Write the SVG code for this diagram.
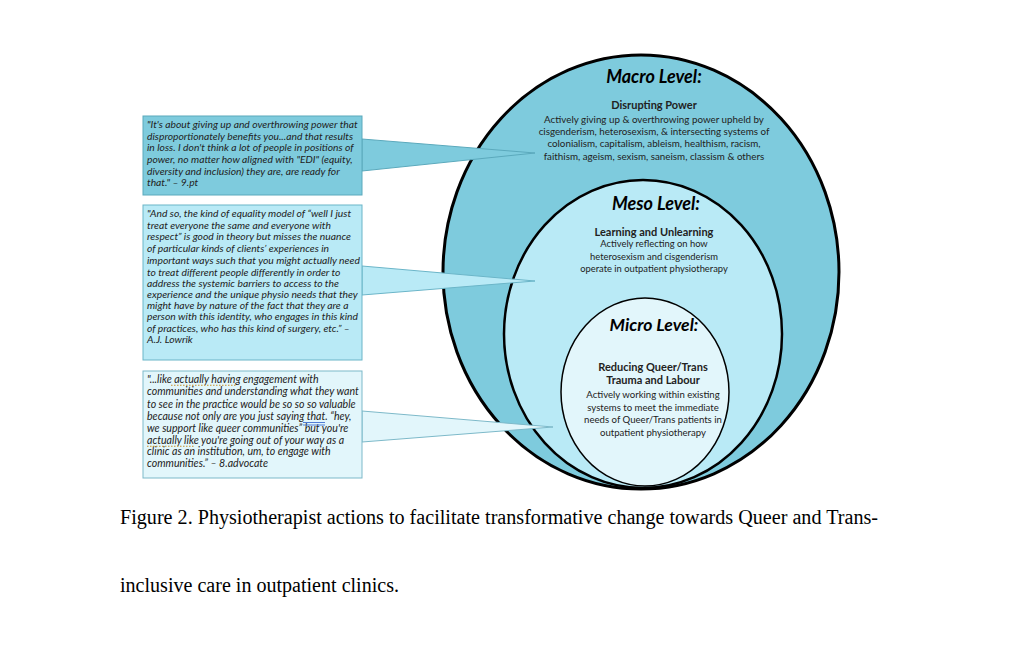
<svg xmlns="http://www.w3.org/2000/svg" width="1024" height="657" viewBox="0 0 1024 657">
<style>
.lvl{font-family:Lato,"Open Sans","Liberation Sans",sans-serif;font-weight:bold;font-style:italic;font-size:18px;fill:#000;text-anchor:middle}
.hd{font-family:Lato,"Open Sans","Liberation Sans",sans-serif;font-weight:bold;font-size:11px;fill:#222;text-anchor:middle}
.bd{font-family:Lato,"Open Sans","Liberation Sans",sans-serif;font-size:9.8px;fill:#222;text-anchor:middle}
.q{font-family:Lato,"Open Sans","Liberation Sans",sans-serif;font-style:italic;font-size:10.3px;fill:#222}
.cap{font-family:"Liberation Serif","Times New Roman",serif;font-size:20px;fill:#000}
.sp{stroke:#C8912A;stroke-width:1.1;stroke-dasharray:1.5 1.5}
.gr{stroke:#3E6FD0;stroke-width:0.9}
</style>
<rect width="1024" height="657" fill="#fff"/>
<g id="macro">
<ellipse cx="641" cy="272" rx="198" ry="217" fill="#7ECBDD" stroke="#000" stroke-width="3"/>
<text class="lvl" x="654" y="83">Macro Level:</text>
<text class="hd" x="654" y="109">Disrupting Power</text>
<text class="bd" x="654" y="123">Actively giving up &amp; overthrowing power upheld by</text>
<text class="bd" x="654" y="135">cisgenderism, heterosexism, &amp; intersecting systems of</text>
<text class="bd" x="654" y="147">colonialism, capitalism, ableism, healthism, racism,</text>
<text class="bd" x="654" y="160">faithism, ageism, sexism, saneism, classism &amp; others</text>
</g>
<g id="meso">
<ellipse cx="643" cy="334" rx="139" ry="154" fill="#B9EAF6" stroke="#000" stroke-width="2.5"/>
<text class="lvl" x="656" y="210">Meso Level:</text>
<text class="hd" x="654" y="236">Learning and Unlearning</text>
<text class="bd" x="654" y="247" style="font-size:9.4px">Actively reflecting on how</text>
<text class="bd" x="654" y="260" style="font-size:9.4px">heterosexism and cisgenderism</text>
<text class="bd" x="654" y="272" style="font-size:9.4px">operate in outpatient physiotherapy</text>
</g>
<g id="micro">
<ellipse cx="645" cy="392" rx="84" ry="94" fill="#E2F6FB" stroke="#000" stroke-width="1.5"/>
<text class="lvl" x="654" y="331" style="font-size:17.6px">Micro Level:</text>
<text class="hd" x="653" y="371">Reducing Queer/Trans</text>
<text class="hd" x="653" y="384">Trauma and Labour</text>
<text class="bd" x="653" y="398" style="font-size:9.6px">Actively working within existing</text>
<text class="bd" x="653" y="411" style="font-size:9.6px">systems to meet the immediate</text>
<text class="bd" x="653" y="423" style="font-size:9.6px">needs of Queer/Trans patients in</text>
<text class="bd" x="653" y="436" style="font-size:9.6px">outpatient physiotherapy</text>
</g>
<g id="connectors">
<polygon points="362,139 535,153 362,171" fill="#7ECBDD" stroke="#5BA9BC" stroke-width="1"/>
<polygon points="362,266 535,281 362,295" fill="#B9EAF6" stroke="#6BB5C8" stroke-width="1"/>
<polygon points="362,411 553,427 362,442" fill="#E2F6FB" stroke="#7DB9C9" stroke-width="1"/>
</g>
<g id="quote1">
<rect x="143" y="116" width="219" height="79" fill="#7ECBDD" stroke="#5BA9BC" stroke-width="1"/>
<text class="q" x="147" y="128">"It's about giving up and overthrowing power that</text>
<text class="q" x="147" y="140">disproportionately benefits you...and that results</text>
<text class="q" x="147" y="151">in loss. I don't think a lot of people in positions of</text>
<text class="q" x="147" y="163">power, no matter how aligned with "EDI" (equity,</text>
<text class="q" x="147" y="175">diversity and inclusion) they are, are ready for</text>
<text class="q" x="147" y="186">that." – 9.pt</text>
</g>
<g id="quote2">
<rect x="143" y="205" width="219" height="155" fill="#B9EAF6" stroke="#6BB5C8" stroke-width="1"/>
<text class="q" x="147" y="217">"And so, the kind of equality model of “well I just</text>
<text class="q" x="147" y="229">treat everyone the same and everyone with</text>
<text class="q" x="147" y="240">respect” is good in theory but misses the nuance</text>
<text class="q" x="147" y="252">of particular kinds of clients’ experiences in</text>
<text class="q" x="147" y="264">important ways such that you might actually need</text>
<text class="q" x="147" y="276">to treat different people differently in order to</text>
<text class="q" x="147" y="287">address the systemic barriers to access to the</text>
<text class="q" x="147" y="298">experience and the unique physio needs that they</text>
<text class="q" x="147" y="309">might have by nature of the fact that they are a</text>
<text class="q" x="147" y="320">person with this identity, who engages in this kind</text>
<text class="q" x="147" y="332">of practices, who has this kind of surgery, etc.” –</text>
<text class="q" x="147" y="343">A.J. Lowrik</text>
</g>
<g id="quote3">
<rect x="143" y="371" width="219" height="107" fill="#E2F6FB" stroke="#7DB9C9" stroke-width="1"/>
<text class="q" x="147" y="383" style="font-size:10.6px">"...like actually having engagement with</text>
<text class="q" x="147" y="395" style="font-size:10.6px">communities and understanding what they want</text>
<text class="q" x="147" y="408" style="font-size:10.6px">to see in the practice would be so so so valuable</text>
<text class="q" x="147" y="420" style="font-size:10.6px">because not only are you just saying that. “hey,</text>
<text class="q" x="147" y="432" style="font-size:10.6px">we support like queer communities” but you're</text>
<text class="q" x="147" y="444" style="font-size:10.6px">actually like you're going out of your way as a</text>
<text class="q" x="147" y="455" style="font-size:10.6px">clinic as an institution, um, to engage with</text>
<text class="q" x="147" y="467" style="font-size:10.6px">communities.” – 8.advocate</text>
<line class="sp" x1="171" y1="385.3" x2="236" y2="385.3"/>
<line class="sp" x1="147" y1="446.3" x2="195" y2="446.3"/>
<line class="gr" x1="303" y1="422.5" x2="325" y2="422.5"/>
<line class="gr" x1="303" y1="425" x2="325" y2="425"/>
</g>
<g id="caption">
<text class="cap" x="120" y="524" textLength="758" lengthAdjust="spacingAndGlyphs">Figure 2. Physiotherapist actions to facilitate transformative change towards Queer and Trans-</text>
<text class="cap" x="120" y="592" textLength="279" lengthAdjust="spacingAndGlyphs">inclusive care in outpatient clinics.</text>
</g>
</svg>
